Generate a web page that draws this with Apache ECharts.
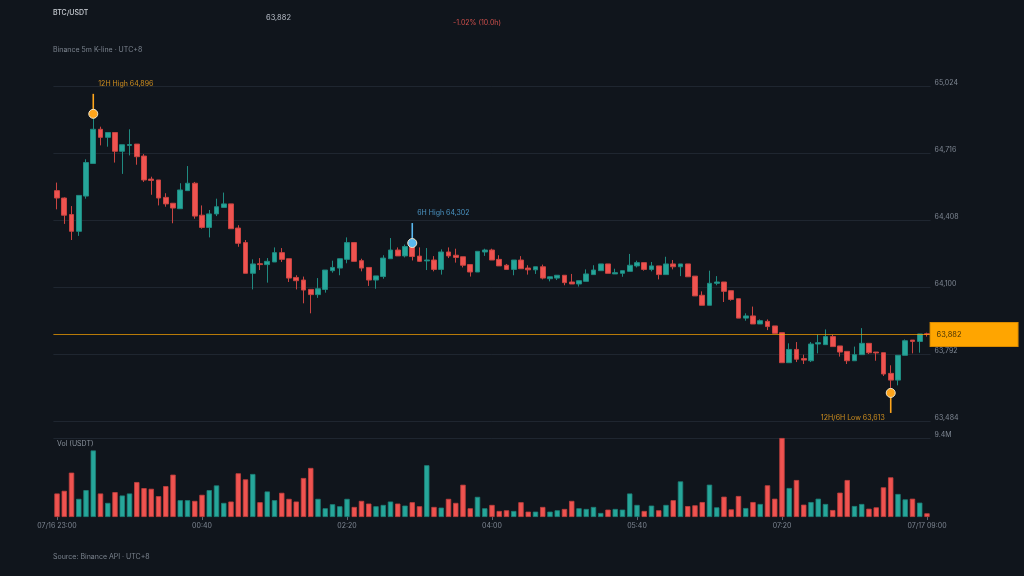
<!DOCTYPE html>
<html>
<head>
<meta charset="utf-8">
<script src="https://cdn.jsdelivr.net/npm/echarts@6/dist/echarts.min.js"></script>
<style>
  html, body { margin: 0; padding: 0; background: #10151c; }
  #chart { width: 1024px; height: 576px; }
</style>
</head>
<body>
<div id="chart"></div>
<script>
// 5m candles, 07/16 23:00 -> 07/17 09:00 (UTC+8)
const opens = [
  64543, 64509, 64433, 64356, 64518, 64668, 64825, 64788, 64810, 64724,
  64751, 64757, 64702, 64596, 64592, 64512, 64485, 64460, 64543, 64577,
  64430, 64374, 64436, 64466, 64482, 64371, 64304, 64163, 64207, 64203,
  64215, 64258, 64230, 64144, 64132, 64089, 64065, 64089, 64175, 64187,
  64227, 64304, 64221, 64190, 64132, 64148, 64230, 64270, 64243, 64286,
  64242, 64220, 64224, 64181, 64261, 64246, 64239, 64203, 64169, 64261,
  64270, 64227, 64200, 64181, 64224, 64187, 64179, 64193, 64138, 64141,
  64154, 64123, 64114, 64126, 64157, 64175, 64206, 64160, 64163, 64172,
  64197, 64212, 64181, 64197, 64157, 64206, 64193, 64206, 64150, 64062,
  64016, 64117, 64123, 64083, 64046, 63957, 63967, 63930, 63942, 63921,
  63890, 63752, 63813, 63771, 63761, 63838, 63835, 63872, 63829, 63804,
  63761, 63789, 63841, 63801, 63798, 63703, 63672, 63786, 63856, 63850,
  63885
];
const closes = [
  64509, 64430, 64356, 64521, 64672, 64825, 64788, 64810, 64724, 64754,
  64755, 64699, 64592, 64590, 64509, 64482, 64463, 64546, 64577, 64426,
  64374, 64436, 64469, 64482, 64368, 64301, 64163, 64206, 64203, 64218,
  64258, 64227, 64141, 64129, 64086, 64065, 64092, 64178, 64190, 64230,
  64304, 64218, 64187, 64132, 64151, 64233, 64270, 64243, 64286, 64240,
  64218, 64224, 64181, 64261, 64243, 64236, 64200, 64169, 64264, 64270,
  64224, 64197, 64181, 64224, 64184, 64179, 64193, 64141, 64147, 64154,
  64120, 64114, 64129, 64160, 64178, 64206, 64163, 64166, 64175, 64200,
  64212, 64181, 64197, 64157, 64206, 64193, 64206, 64147, 64059, 64016,
  64117, 64123, 64080, 64043, 63957, 63967, 63930, 63945, 63918, 63887,
  63752, 63813, 63768, 63764, 63838, 63844, 63872, 63826, 63801, 63761,
  63789, 63841, 63798, 63797, 63700, 63672, 63786, 63853, 63850, 63884,
  63882
];
const highs = [
  64580, 64512, 64472, 64521, 64687, 64896, 64837, 64810, 64810, 64754,
  64825, 64757, 64711, 64607, 64592, 64531, 64485, 64577, 64656, 64583,
  64475, 64454, 64506, 64534, 64482, 64384, 64316, 64227, 64233, 64233,
  64282, 64279, 64230, 64154, 64148, 64089, 64141, 64178, 64221, 64230,
  64328, 64307, 64230, 64190, 64151, 64246, 64325, 64282, 64295, 64302,
  64282, 64279, 64242, 64273, 64282, 64276, 64239, 64203, 64264, 64276,
  64276, 64246, 64206, 64224, 64242, 64200, 64193, 64203, 64147, 64154,
  64154, 64160, 64129, 64181, 64200, 64206, 64206, 64184, 64175, 64252,
  64221, 64212, 64215, 64197, 64239, 64224, 64206, 64206, 64150, 64080,
  64175, 64150, 64123, 64083, 64046, 63979, 64010, 63951, 63951, 63921,
  63890, 63841, 63847, 63789, 63847, 63881, 63905, 63881, 63829, 63804,
  63826, 63911, 63841, 63801, 63798, 63740, 63786, 63859, 63856, 63884,
  63890
];
const lows = [
  64457, 64390, 64316, 64335, 64506, 64668, 64751, 64745, 64672, 64620,
  64705, 64662, 64583, 64524, 64475, 64469, 64393, 64460, 64543, 64414,
  64368, 64328, 64426, 64466, 64368, 64285, 64163, 64089, 64178, 64120,
  64215, 64215, 64123, 64089, 64025, 63979, 64050, 64074, 64166, 64154,
  64209, 64218, 64172, 64105, 64092, 64138, 64230, 64243, 64236, 64222,
  64215, 64178, 64172, 64157, 64233, 64212, 64190, 64148, 64169, 64243,
  64224, 64197, 64181, 64154, 64184, 64157, 64160, 64135, 64126, 64132,
  64108, 64114, 64102, 64126, 64157, 64175, 64163, 64160, 64147, 64172,
  64190, 64175, 64172, 64135, 64157, 64181, 64150, 64147, 64059, 64016,
  64016, 64108, 64031, 64037, 63957, 63945, 63930, 63930, 63902, 63887,
  63752, 63752, 63755, 63746, 63755, 63795, 63835, 63826, 63780, 63746,
  63761, 63789, 63792, 63761, 63691, 63613, 63648, 63786, 63795, 63798,
  63872
];
// quote volume, millions of USDT
const volM = [
  2.8, 3.12, 5.28, 2.16, 3.2, 7.92, 2.8, 1.68, 2.96, 2.56,
  2.8, 4.16, 3.44, 3.36, 2.48, 3.68, 5.04, 2.0, 2.0, 1.92,
  2.64, 3.2, 3.76, 1.68, 1.84, 5.2, 4.48, 5.12, 1.76, 3.04,
  2.0, 2.88, 2.16, 1.84, 4.64, 5.84, 2.16, 1.04, 1.52, 1.28,
  2.16, 1.2, 1.92, 1.6, 1.28, 1.44, 1.84, 1.6, 1.36, 1.76,
  1.28, 6.16, 1.2, 1.12, 2.16, 1.68, 3.84, 1.04, 2.4, 1.04,
  1.44, 0.72, 0.8, 0.72, 1.76, 0.64, 0.64, 1.2, 0.64, 0.8,
  0.96, 1.92, 1.04, 0.96, 1.2, 0.48, 0.88, 0.96, 0.88, 2.8,
  1.44, 0.72, 1.36, 0.8, 1.44, 2.0, 4.24, 1.3, 1.39, 1.78,
  3.85, 1.15, 2.42, 0.91, 2.5, 1.07, 1.78, 1.55, 3.77, 2.18,
  9.4, 3.45, 4.4, 1.47, 1.78, 2.18, 1.55, 0.83, 2.9, 4.4,
  1.31, 1.55, 0.99, 1.15, 3.53, 4.72, 2.74, 2.1, 2.18, 1.71,
  0.44
];
const priceTicks = [63484, 65024, 308];   // min, max, step
const lastPrice = 63882;
const markIdx = [5, 49, 115];
const markPrice = [64896, 64302, 63613];
const markText = ['12H High 64,896', '6H High 64,302', '12H/6H Low 63,613'];

const UP = '#26a69a', DOWN = '#ef5350';
const FONT = 'Inter, "Noto Sans", sans-serif';

// time labels every 5 minutes
const times = [];
const t0 = Date.UTC(2024, 6, 16, 23, 0);
for (let i = 0; i < opens.length; i++) {
    const d = new Date(t0 + i * 5 * 60000);
    const p = n => String(n).padStart(2, '0');
    times.push(`${p(d.getUTCMonth() + 1)}/${p(d.getUTCDate())} ${p(d.getUTCHours())}:${p(d.getUTCMinutes())}`);
}

const kData = opens.map((o, i) => [o, closes[i], lows[i], highs[i]]);
const volData = volM.map((v, i) => ({
    value: v,
    itemStyle: closes[i] >= opens[i]
        ? { color: UP, borderColor: '#1d8077' }
        : { color: DOWN, borderColor: '#c0403e' }
}));
const fmt = v => Math.round(v).toLocaleString('en-US');

const chart = echarts.init(document.getElementById('chart'));

const gridL = 53.4, gridR = 93.4;

chart.setOption({
    backgroundColor: '#10151c',
    animation: false,
    textStyle: { fontFamily: FONT },
    grid: [
        { left: gridL, right: gridR, top: 86, height: 335 },
        { left: gridL, right: gridR, top: 438, height: 79 }
    ],
    xAxis: [
        { type: 'category', gridIndex: 0, data: times, boundaryGap: true,
          axisLine: { show: false }, axisTick: { show: false }, axisLabel: { show: false }, splitLine: { show: false } },
        { type: 'category', gridIndex: 1, data: times, boundaryGap: true,
          axisLine: { show: false },
          axisTick: { show: true, interval: 19, alignWithLabel: true, length: 3, lineStyle: { color: '#5d6570' } },
          axisLabel: {
              interval: 19, color: '#7f8793', fontSize: 7, fontFamily: FONT, margin: 5,
              formatter: (v, i) => (i === 0 || i === times.length - 1) ? v : v.slice(6)
          },
          splitLine: { show: false } }
    ],
    yAxis: [
        { type: 'value', gridIndex: 0, position: 'right', scale: true,
          min: priceTicks[0], max: priceTicks[1], interval: priceTicks[2],
          axisLine: { show: false }, axisTick: { show: false },
          axisLabel: { color: '#7f8793', fontSize: 7, fontFamily: FONT, margin: 4, verticalAlign: 'bottom', formatter: fmt },
          splitLine: { lineStyle: { color: '#1f2630', width: 1 } } },
        { type: 'value', gridIndex: 1, position: 'right',
          min: 0, max: 9.4, interval: 9.4,
          axisLine: { show: false }, axisTick: { show: false },
          axisLabel: { color: '#7f8793', fontSize: 7, fontFamily: FONT, margin: 4, verticalAlign: 'bottom',
                       showMinLabel: false, formatter: v => v.toFixed(1) + 'M' },
          splitLine: { showMinLine: false, lineStyle: { color: '#1f2630', width: 1 } } }
    ],
    graphic: [
        { type: 'text', left: 53, top: 9, style: { text: 'BTC/USDT', fill: '#c9cdd3', font: `500 7px ${FONT}` } },
        { type: 'text', left: 266, top: 14, style: { text: fmt(lastPrice), fill: '#b8bec8', font: `7.5px ${FONT}` } },
        { type: 'text', left: 453, top: 19, style: { text: '-1.02% (10.0h)', fill: '#d0504c', font: `7px ${FONT}` } },
        { type: 'text', left: 53, top: 46, style: { text: 'Binance 5m K-line · UTC+8', fill: '#7b838e', font: `7px ${FONT}` } },
        { type: 'text', left: 57, top: 440, style: { text: 'Vol (USDT)', fill: '#8a929c', font: `7px ${FONT}` } },
        { type: 'text', left: 53, top: 553, style: { text: 'Source: Binance API · UTC+8', fill: '#7b838e', font: `7px ${FONT}` } }
    ],
    series: [
        {
            type: 'candlestick',
            xAxisIndex: 0, yAxisIndex: 0,
            data: kData,
            barWidth: '74%',
            itemStyle: {
                color: UP, color0: DOWN,
                borderColor: '#1f8a80', borderColor0: '#c94441',
                borderWidth: 1
            },
            markLine: {
                silent: true,
                symbol: 'none',
                data: [{ yAxis: lastPrice }],
                lineStyle: { color: 'rgba(255,165,0,0.7)', width: 1, type: 'solid' },
                label: {
                    position: 'end', distance: 0,
                    formatter: fmt(lastPrice),
                    color: '#4a3506', fontSize: 7.5, fontFamily: FONT,
                    backgroundColor: '#ffa500', borderColor: '#d98a00', borderWidth: 1,
                    padding: [7, 56, 8, 6], align: 'left'
                }
            }
        },
        {
            type: 'bar',
            xAxisIndex: 1, yAxisIndex: 1,
            data: volData,
            barWidth: '74%',
            itemStyle: { borderWidth: 0.8 }
        },
        {
            type: 'custom',
            xAxisIndex: 0, yAxisIndex: 0,
            clip: false, z: 10,
            data: markIdx.map((x, k) => [x, markPrice[k], k]),
            renderItem: (params, api) => {
                const k = api.value(2);
                const pt = api.coord([api.value(0), api.value(1)]);
                const isLow = k === 2;
                const col = k === 1 ? '#5ab8ef' : '#ffa51c';
                const txtCol = k === 1 ? '#4b95c4' : '#d08f1f';
                const end = isLow ? pt[1] + 20 : pt[1] - 20;
                return {
                    type: 'group',
                    children: [
                        { type: 'line', shape: { x1: pt[0], y1: pt[1], x2: pt[0], y2: end },
                          style: { stroke: col, lineWidth: 1.6 } },
                        { type: 'circle', shape: { cx: pt[0], cy: pt[1], r: 4.5 },
                          style: { fill: col, stroke: '#f3e6c8', lineWidth: 1 } },
                        { type: 'text',
                          x: isLow ? pt[0] - 6 : pt[0] + 5,
                          y: isLow ? end + 5 : end - 10,
                          style: { text: markText[k], fill: txtCol, font: `7px ${FONT}`,
                                   align: isLow ? 'right' : 'left', verticalAlign: 'middle' } }
                    ]
                };
            }
        }
    ]
});
</script>
</body>
</html>
